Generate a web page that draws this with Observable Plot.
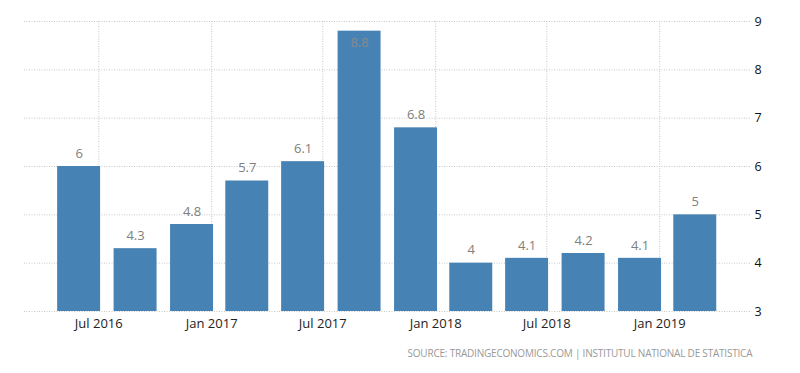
<!DOCTYPE html>
<html>
<head>
<meta charset="utf-8">
<script src="https://cdn.jsdelivr.net/npm/d3@7"></script>
<script src="https://cdn.jsdelivr.net/npm/@observablehq/plot@0.6"></script>
<style>
  html, body { margin: 0; padding: 0; background: #fff; }
  #chart { width: 800px; height: 373px; }
</style>
</head>
<body>
<div id="chart"></div>
<script>
// Quarter end dates and values
const quarterEnds = ["2016-06-30","2016-09-30","2016-12-31","2017-03-31","2017-06-30","2017-09-30",
                     "2017-12-31","2018-03-31","2018-06-30","2018-09-30","2018-12-31","2019-03-31"];
const values = [6, 4.3, 4.8, 5.7, 6.1, 8.8, 6.8, 4, 4.1, 4.2, 4.1, 5];
const xTicks = ["2016-07-01","2017-01-01","2017-07-01","2018-01-01","2018-07-01","2019-01-01"];
const yTicks = [3, 4, 5, 6, 7, 8, 9];
const source = "SOURCE: TRADINGECONOMICS.COM | INSTITUTUL NATIONAL DE STATISTICA";

const data = quarterEnds.map((q, i) => {
  const end = d3.utcDay.offset(new Date(q + "T00:00:00Z"), 4);
  return { x1: d3.utcDay.offset(end, -70), x2: end, xc: d3.utcDay.offset(end, -35), value: values[i] };
});
const tickDates = xTicks.map(t => new Date(t + "T00:00:00Z"));

const font = "'Open Sans', sans-serif";
const chart = Plot.plot({
  width: 800,
  height: 373,
  marginLeft: 24,
  marginRight: 50,
  marginTop: 21,
  marginBottom: 62,
  style: { fontFamily: font, background: "#fff" },
  x: { type: "utc", domain: [new Date("2016-03-02T00:00:00Z"), new Date("2019-05-29T00:00:00Z")] },
  y: { domain: [3, 9] },
  marks: [
    Plot.gridY(yTicks, { stroke: "#c8c8c8", strokeOpacity: 1, strokeDasharray: "1,1.5" }),
    Plot.gridX(tickDates, { stroke: "#c8c8c8", strokeOpacity: 1, strokeDasharray: "1,1.5" }),
    Plot.rectY(data, { x1: "x1", x2: "x2", y1: 3, y2: "value", fill: "#4682b4" }),
    Plot.text(data.filter(d => d.value <= 8.5), { x: "xc", y: "value", text: d => String(d.value), dy: -13, fill: "#808080", fontSize: 13 }),
    Plot.text(data.filter(d => d.value > 8.5), { x: "xc", y: "value", text: d => String(d.value), dy: 12, fill: "#8a8a8a", fontSize: 13 }),
    Plot.axisX({ ticks: tickDates, tickSize: 0, tickPadding: 7, tickFormat: d3.utcFormat("%b %Y"), fontSize: 13, fill: "#222", label: null }),
    Plot.axisY({ anchor: "right", ticks: yTicks, tickSize: 0, tickPadding: 4, tickFormat: d3.format("d"), fontSize: 12.5, fill: "#111", label: null }),
    Plot.text([source], { frameAnchor: "bottom-right", text: d => d, dy: 45, dx: 2, textAnchor: "end", fill: "#999", fontSize: 10 })
  ]
});
document.getElementById("chart").appendChild(chart);
chart.querySelectorAll("text").forEach(t => {
  if (t.textContent.startsWith("SOURCE")) {
    t.setAttribute("textLength", "345");
    t.setAttribute("lengthAdjust", "spacing");
  }
});
</script>
</body>
</html>
